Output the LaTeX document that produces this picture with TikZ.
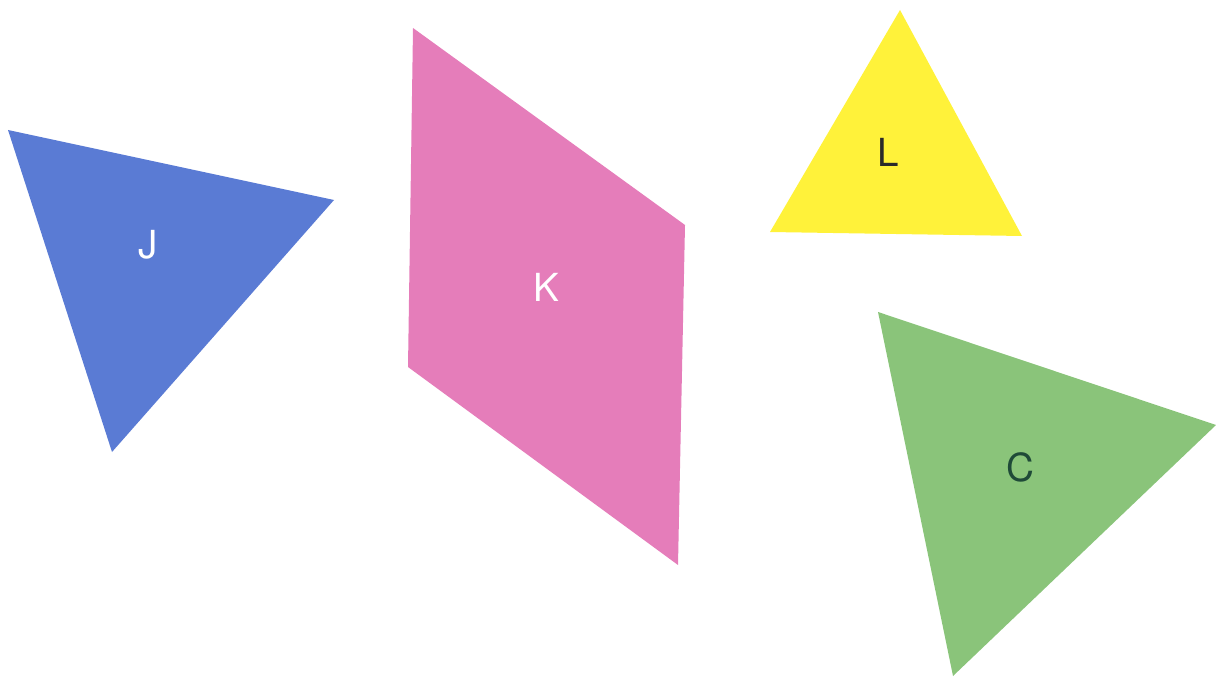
\documentclass[tikz,border=0pt]{standalone}
\usepackage{fontspec}
\setsansfont{TeX Gyre Heros}
\definecolor{jblue}{HTML}{5A7BD4}
\definecolor{kpink}{HTML}{E57DBA}
\definecolor{lyellow}{HTML}{FFF23A}
\definecolor{cgreen}{HTML}{8AC47A}
\definecolor{cdark}{HTML}{1F4A38}
\definecolor{ldark}{HTML}{2A2A2A}
\begin{document}
\begin{tikzpicture}[x=0.02cm, y=-0.02cm,
  shapelabel/.style={font=\sffamily\fontsize{22}{22}\selectfont}]
\useasboundingbox (0,0) rectangle (1216,678);

% Triangle J
\fill[jblue] (8,130) -- (334,200) -- (112,452) -- cycle;
\node[shapelabel, text=white] (labelJ) at (148,245) {J};

% Parallelogram K
\fill[kpink] (413,28) -- (685,225) -- (678,565) -- (408,367) -- cycle;
\node[shapelabel, text=white] (labelK) at (546,287) {K};

% Triangle L
\fill[lyellow] (900,10) -- (1022,236) -- (770,232) -- cycle;
\node[shapelabel, text=ldark] (labelL) at (888,152) {L};

% Triangle C
\fill[cgreen] (878,312) -- (1216,425) -- (953,676) -- cycle;
\node[shapelabel, text=cdark] (labelC) at (1020,467) {C};

\end{tikzpicture}
\end{document}
